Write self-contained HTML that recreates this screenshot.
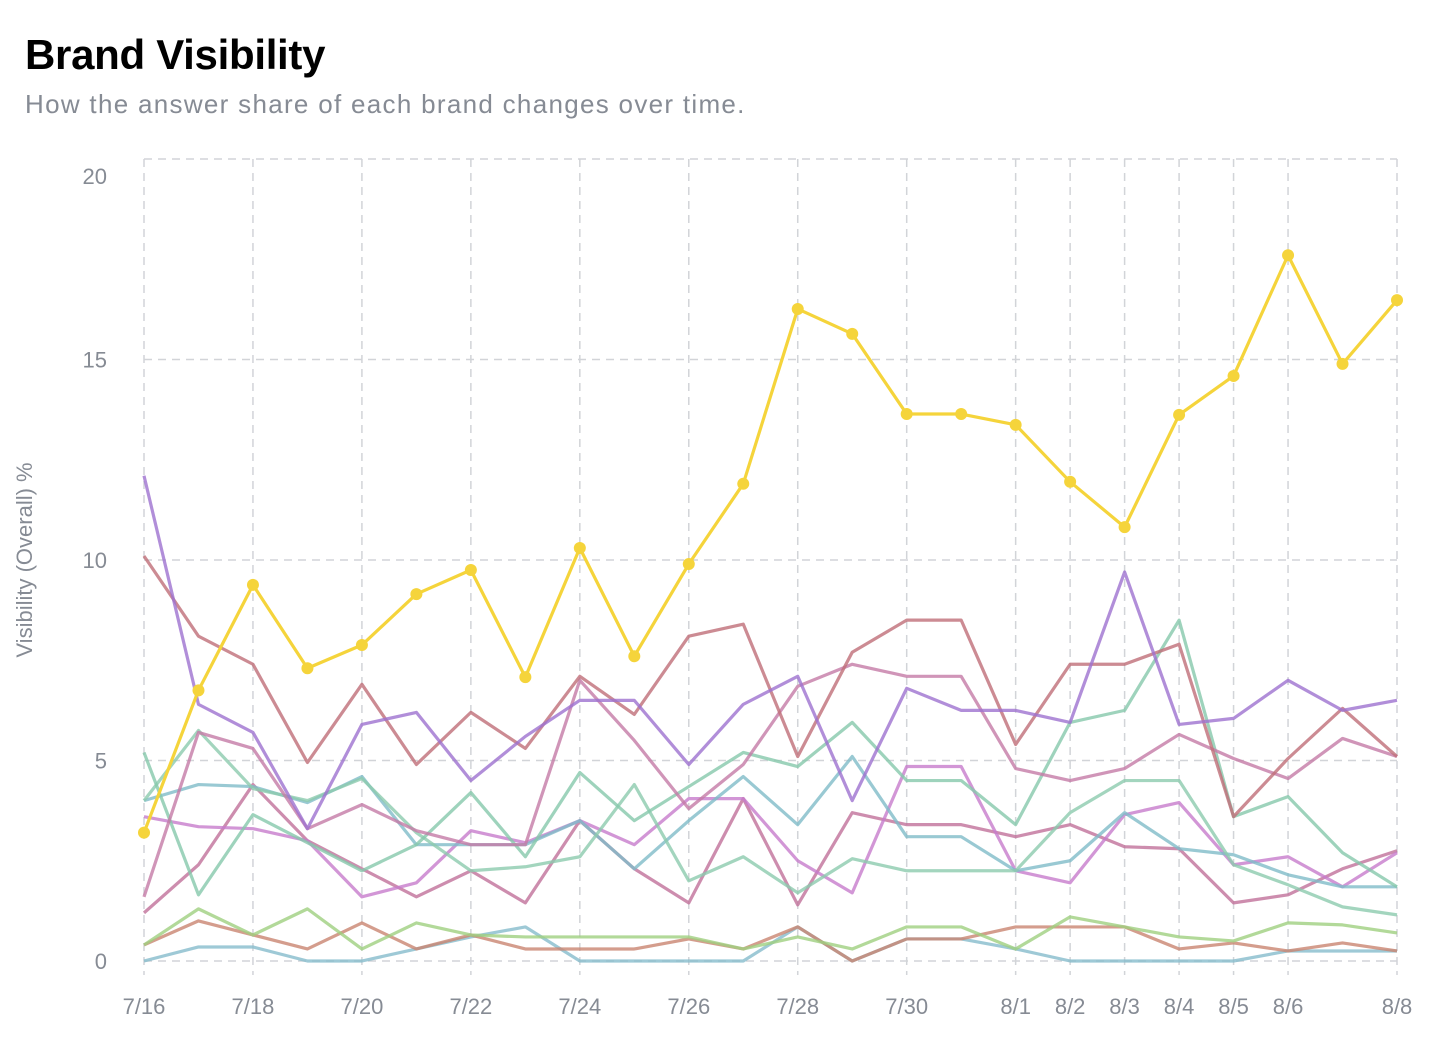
<!DOCTYPE html>
<html><head><meta charset="utf-8"><style>
body{margin:0;background:#fff;font-family:"Liberation Sans",sans-serif;}
#wrap{position:relative;width:1436px;height:1048px;overflow:hidden;}
h1{position:absolute;left:25px;top:31px;margin:0;font-size:42px;font-weight:bold;color:#000;letter-spacing:-0.3px;}
p.sub{position:absolute;left:25px;top:89px;margin:0;font-size:26px;color:#868b94;letter-spacing:1.3px;}
svg{position:absolute;left:0;top:0;}
</style></head><body>
<div id="wrap">
<h1>Brand Visibility</h1>
<p class="sub">How the answer share of each brand changes over time.</p>
<svg id="chart" width="1436" height="1048"></svg>
</div>
<script>
const dates=["7/16","7/17","7/18","7/19","7/20","7/21","7/22","7/23","7/24","7/25","7/26","7/27","7/28","7/29","7/30","7/31","8/1","8/2","8/3","8/4","8/5","8/6","8/7","8/8"];
const xTickLabels=["7/16","7/18","7/20","7/22","7/24","7/26","7/28","7/30","8/1","8/2","8/3","8/4","8/5","8/6","8/8"];
const yTicks=[0,5,10,15,20];
const brandYellow=[3.2,6.75,9.38,7.3,7.88,9.15,9.75,7.08,10.3,7.6,9.9,11.9,16.26,15.64,13.64,13.64,13.37,11.95,10.82,13.62,14.59,17.6,14.89,16.48];
const brandPurple=[12.1,6.4,5.7,3.3,5.9,6.2,4.5,5.6,6.5,6.5,4.9,6.4,7.1,4.0,6.8,6.25,6.25,5.95,9.7,5.9,6.05,7.0,6.25,6.5];
const brandRose=[10.1,8.1,7.4,4.95,6.9,4.9,6.2,5.3,7.1,6.15,8.1,8.4,5.1,7.7,8.5,8.5,5.4,7.4,7.4,7.9,3.6,5.05,6.3,5.1];
const brandPink=[1.6,5.7,5.3,3.3,3.9,3.25,2.9,2.9,7.0,5.5,3.8,4.9,6.85,7.4,7.1,7.1,4.8,4.5,4.8,5.65,5.05,4.55,5.55,5.1];
const brandTeal=[5.2,1.65,3.65,2.95,2.25,2.9,4.2,2.6,4.7,3.5,4.35,5.2,4.85,5.95,4.5,4.5,3.4,5.95,6.25,8.5,3.6,4.1,2.7,1.85];
const brandMint=[4.0,5.75,4.3,4.0,4.55,3.2,2.25,2.35,2.6,4.4,2.0,2.6,1.7,2.55,2.25,2.25,2.25,3.7,4.5,4.5,2.4,1.9,1.35,1.15];
const brandBlue=[4.0,4.4,4.35,3.95,4.6,2.9,2.9,2.9,3.5,2.3,3.5,4.6,3.4,5.1,3.1,3.1,2.25,2.5,3.7,2.8,2.65,2.15,1.85,1.85];
const brandOrchid=[3.6,3.35,3.3,3.0,1.6,1.95,3.25,2.95,3.5,2.9,4.05,4.05,2.5,1.7,4.85,4.85,2.25,1.95,3.65,3.95,2.4,2.6,1.85,2.7];
const brandMauve=[1.2,2.4,4.4,3.0,2.3,1.6,2.25,1.45,3.5,2.3,1.45,4.05,1.4,3.7,3.4,3.4,3.1,3.4,2.85,2.8,1.45,1.65,2.3,2.75];
const brandGreen=[0.4,1.3,0.65,1.3,0.3,0.95,0.65,0.6,0.6,0.6,0.6,0.3,0.6,0.3,0.85,0.85,0.3,1.1,0.85,0.6,0.5,0.95,0.9,0.7];
const brandSalmon=[0.4,1.0,0.65,0.3,0.95,0.3,0.65,0.3,0.3,0.3,0.55,0.3,0.85,0.0,0.55,0.55,0.85,0.85,0.85,0.3,0.45,0.25,0.45,0.25];
const brandSky=[0,0.35,0.35,0,0,0.3,0.6,0.85,0,0,0,0,0.85,0,0.55,0.55,0.3,0,0,0,0,0.25,0.25,0.25];
const series=[
 {name:"brand-sky",v:brandSky,c:"#86bccc"},
 {name:"brand-salmon",v:brandSalmon,c:"#c98570"},
 {name:"brand-green",v:brandGreen,c:"#9fcf80"},
 {name:"brand-mauve",v:brandMauve,c:"#c0709a"},
 {name:"brand-orchid",v:brandOrchid,c:"#c77ccc"},
 {name:"brand-blue",v:brandBlue,c:"#80bcc8"},
 {name:"brand-mint",v:brandMint,c:"#8ccaae"},
 {name:"brand-teal",v:brandTeal,c:"#86c8ab"},
 {name:"brand-pink",v:brandPink,c:"#c47aa6"},
 {name:"brand-rose",v:brandRose,c:"#bf6e78"},
 {name:"brand-purple",v:brandPurple,c:"#9d72cf"}
];
const NS="http://www.w3.org/2000/svg";
const svg=document.getElementById('chart');
const x0=144,x1=1397,yb=961,yt=159;
const xs=i=>x0+(x1-x0)*i/(dates.length-1);
const ys=v=>yb-(yb-yt)*v/20;
function mk(t,a){const e=document.createElementNS(NS,t);for(const k in a)e.setAttribute(k,a[k]);svg.appendChild(e);return e;}
yTicks.forEach(t=>{
 const l=mk('line',{x1:x0,x2:x1,y1:ys(t),y2:ys(t),stroke:'#d2d4d8','stroke-width':1.5,'stroke-dasharray':'8 6'});
 
 
 const off=(t===20)?25:8;
 const tx=mk('text',{x:107,y:ys(t)+off,'text-anchor':'end','font-size':22,fill:'#868b94','font-family':'Liberation Sans, sans-serif'});
 tx.textContent=t;
 
 
});
xTickLabels.forEach(d=>{
 const i=dates.indexOf(d);
 const l=mk('line',{x1:xs(i),x2:xs(i),y1:yt,y2:975,stroke:'#d2d4d8','stroke-width':1.5,'stroke-dasharray':'8 6'});
 
 
 const tx=mk('text',{x:xs(i),y:1014,'text-anchor':'middle','font-size':22,fill:'#868b94','font-family':'Liberation Sans, sans-serif'});
 tx.textContent=d;
 
 
});
const yl=mk('text',{transform:'translate(32,560) rotate(-90)','text-anchor':'middle','font-size':22,fill:'#868b94','font-family':'Liberation Sans, sans-serif'});
yl.textContent='Visibility (Overall) %';


series.forEach(s=>{
 const p=mk('polyline',{points:s.v.map((v,i)=>xs(i)+','+ys(v)).join(' '),fill:'none',stroke:s.c,'stroke-width':3.2,'stroke-opacity':0.8,'stroke-linejoin':'round'});
 
 
});
const yp=mk('polyline',{points:brandYellow.map((v,i)=>xs(i)+','+ys(v)).join(' '),fill:'none',stroke:'#f5d43b','stroke-width':3.2,'stroke-linejoin':'round'});


brandYellow.forEach((v,i)=>{
 const c=mk('circle',{cx:xs(i),cy:ys(v),r:6,fill:'#f5d43b'});
 
 
});
</script>
</body></html>
